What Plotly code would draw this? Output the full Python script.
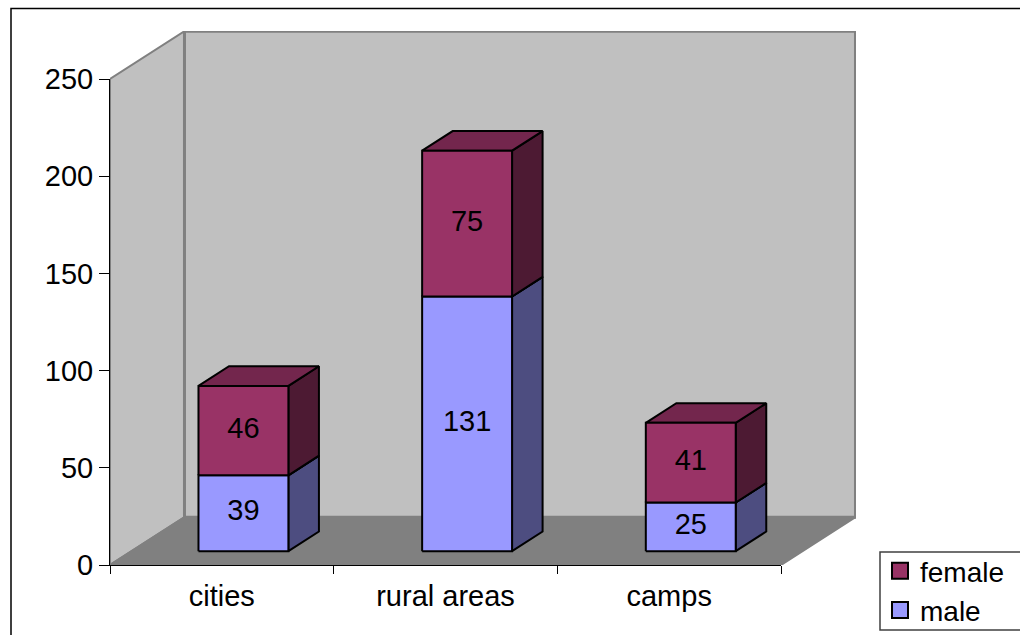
import plotly.graph_objects as go

categories = ["cities", "rural areas", "camps"]
male = [39, 131, 25]
female = [46, 75, 41]
y_ticks = [0, 50, 100, 150, 200, 250]

# Oblique projection of the box: full depth expressed in axis units
DEPTH_X = 0.333
DEPTH_Y = 24.6
BAR_WIDTH = 0.402
BAR_FRONT = 0.29
BAR_BACK = 0.70
FONT = "Liberation Sans, Arial, sans-serif"
TEXT_SIZE = 29

X_MIN, X_MAX = -0.5, 2.5
Y_MIN, Y_MAX = 0, 250

# Pixel frame: the outer frame holds the whole box, the inner one only its front
WIDTH, HEIGHT = 1020, 635
LEFT, FRONT_RIGHT, BACK_RIGHT = 110, 781, 856
BOTTOM, FRONT_TOP, BACK_TOP = 565, 79, 31

FRAME_W = BACK_RIGHT - LEFT
FRAME_H = BOTTOM - BACK_TOP
FRONT_W = FRONT_RIGHT - LEFT
FRONT_H = BOTTOM - FRONT_TOP


def paper_x(px):
    return (px - LEFT) / FRAME_W


def paper_y(py):
    return (BOTTOM - py) / FRAME_H


def project(x, value, depth):
    return x + depth * DEPTH_X, value + depth * DEPTH_Y


def face(fig, corners, fill, line, width=2):
    pts = [project(*c) for c in corners]
    pts.append(pts[0])
    fig.add_trace(go.Scatter(
        x=[p[0] for p in pts], y=[p[1] for p in pts],
        mode="lines", fill="toself", fillcolor=fill,
        line=dict(color=line, width=width),
        hoverinfo="skip", showlegend=False, cliponaxis=False,
    ))


def box(fig, x, base, value, front, side, top):
    x0, x1 = x - BAR_WIDTH / 2, x + BAR_WIDTH / 2
    y0, y1 = base, base + value
    f, b = BAR_FRONT, BAR_BACK
    face(fig, [(x1, y0, f), (x1, y0, b), (x1, y1, b), (x1, y1, f)], side, "black")
    face(fig, [(x0, y1, f), (x0, y1, b), (x1, y1, b), (x1, y1, f)], top, "black")
    face(fig, [(x0, y0, f), (x1, y0, f), (x1, y1, f), (x0, y1, f)], front, "black")


fig = go.Figure()

# Walls and floor of the chart box
face(fig, [(X_MIN, 0, 0), (X_MIN, 0, 1), (X_MIN, 250, 1), (X_MIN, 250, 0)], "#C0C0C0", "#808080")
face(fig, [(X_MIN, 0, 1), (X_MAX, 0, 1), (X_MAX, 250, 1), (X_MIN, 250, 1)], "#C0C0C0", "#808080", 3)
face(fig, [(X_MIN, 0, 0), (X_MAX, 0, 0), (X_MAX, 0, 1), (X_MIN, 0, 1)], "#808080", "#808080")

# Stacked columns, lower segment first
for i in range(len(categories)):
    box(fig, i, 0, male[i], "#9999FF", "#4D4D80", "#6B6BB3")
    box(fig, i, male[i], female[i], "#993366", "#4D1A33", "#73264D")

# Value labels centred on the front faces
for series, bases in ((male, [0, 0, 0]), (female, male)):
    pts = [project(i, bases[i] + series[i] / 2, BAR_FRONT) for i in range(len(series))]
    fig.add_trace(go.Scatter(
        x=[p[0] for p in pts], y=[p[1] for p in pts],
        mode="text", text=[str(v) for v in series], textposition="middle center",
        textfont=dict(family=FONT, size=TEXT_SIZE, color="black"),
        hoverinfo="skip", showlegend=False, cliponaxis=False,
    ))

# Legend keys, female listed first
for name, colour in (("female", "#993366"), ("male", "#9999FF")):
    fig.add_trace(go.Scatter(
        x=[None], y=[None], mode="markers", name=name,
        marker=dict(symbol="square", size=17, color=colour, line=dict(color="black", width=2)),
    ))

# Empty trace that brings the visible axes on top of the box
fig.add_trace(go.Scatter(x=[None], y=[None], xaxis="x2", yaxis="y2",
                         mode="lines", hoverinfo="skip", showlegend=False))

x_span = (X_MAX - X_MIN) * FRAME_W / FRONT_W
y_span = (Y_MAX - Y_MIN) * FRAME_H / FRONT_H

fig.update_layout(
    width=WIDTH, height=HEIGHT, autosize=False,
    margin=dict(l=LEFT, r=WIDTH - BACK_RIGHT, t=BACK_TOP, b=HEIGHT - BOTTOM, autoexpand=False),
    paper_bgcolor="white", plot_bgcolor="rgba(0,0,0,0)",
    font=dict(family=FONT, size=TEXT_SIZE, color="black"),
    hovermode=False,
    # The legend itself is borderless; its frame is the tighter rectangle below
    legend=dict(
        xref="container", yref="container",
        x=880 / WIDTH, y=1 - 546 / HEIGHT, xanchor="left", yanchor="top",
        bgcolor="rgba(0,0,0,0)", borderwidth=0,
        traceorder="normal", entrywidth=120, entrywidthmode="pixels",
        font=dict(family=FONT, size=TEXT_SIZE - 1),
    ),
    # Hidden axes that place the box faces
    xaxis=dict(domain=[0, 1], range=[X_MIN, X_MIN + x_span], visible=False),
    yaxis=dict(domain=[0, 1], range=[Y_MIN, Y_MIN + y_span], visible=False),
    # Visible axes along the front edges
    xaxis2=dict(
        domain=[0, FRONT_W / FRAME_W], anchor="y2",
        range=[X_MIN, X_MAX], showgrid=False, zeroline=False,
        showline=True, linecolor="black", linewidth=1,
        tickmode="array", tickvals=list(range(len(categories))), ticktext=categories,
        ticks="", ticklabelstandoff=5,
        minor=dict(tickmode="array", tickvals=[-0.5, 0.5, 1.5, 2.5],
                   ticks="outside", ticklen=8, tickcolor="black", tickwidth=1, showgrid=False),
    ),
    yaxis2=dict(
        domain=[0, FRONT_H / FRAME_H], anchor="x2",
        range=[Y_MIN, Y_MAX], showgrid=False, zeroline=False,
        showline=True, linecolor="black", linewidth=1,
        tickmode="array", tickvals=y_ticks,
        ticks="outside", ticklen=10, tickcolor="black", tickwidth=1,
    ),
    shapes=[
        dict(type="rect", xref="paper", yref="paper", layer="below",
             x0=paper_x(11), x1=paper_x(1040), y0=paper_y(650), y1=paper_y(8.5),
             line=dict(color="black", width=1.5), fillcolor="rgba(0,0,0,0)"),
        dict(type="rect", xref="paper", yref="paper", layer="below",
             x0=paper_x(880), x1=paper_x(1040), y0=paper_y(630), y1=paper_y(552),
             line=dict(color="#404040", width=1.5), fillcolor="white"),
    ],
)

fig.write_html("out.html")
